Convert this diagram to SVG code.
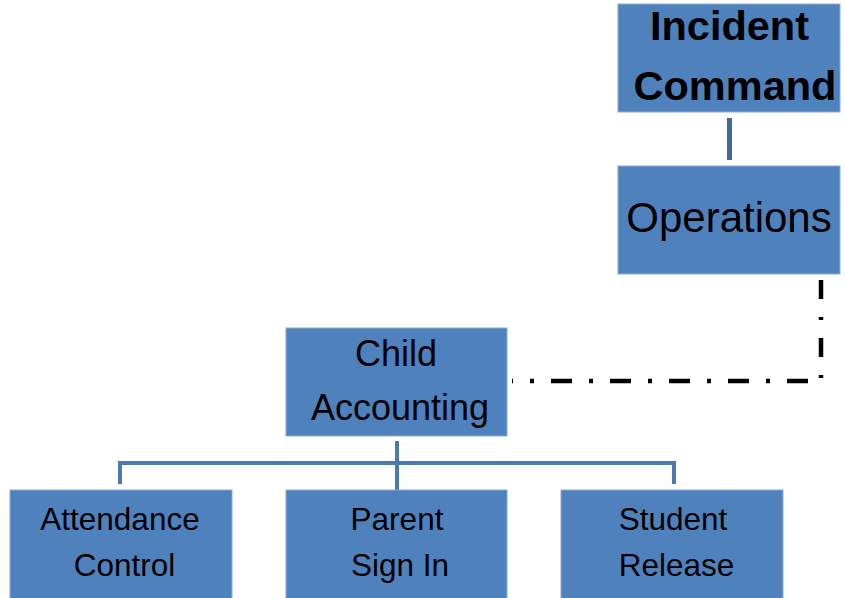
<svg xmlns="http://www.w3.org/2000/svg" width="845" height="598" viewBox="0 0 845 598">
  <style>
    .box { fill: #4F81BD; stroke: #8AAAD4; stroke-width: 1; }
    .lbl { font-family: "Liberation Sans", Arial, sans-serif; fill: #000; text-anchor: middle; }
    .tree { stroke: #4A7AB5; stroke-width: 4; fill: none; }
    .solid { stroke: #41699A; stroke-width: 5; fill: none; }
    .dashdot { stroke: #000; stroke-width: 4.5; fill: none; stroke-linecap: butt; }
  </style>
  <rect width="845" height="598" fill="#fff"/>

  <g id="connectors">
    <line class="solid" x1="729.5" y1="118" x2="729.5" y2="160"/>
    <path class="tree" d="M397 441 V490 M120 484 V463 H674 V484"/>
    <line class="dashdot" x1="821" y1="280" x2="821" y2="380" stroke-dasharray="19 18 3 18"/>
    <line class="dashdot" x1="808" y1="381" x2="512" y2="381" stroke-dasharray="21 17 4 17"/>
  </g>

  <g id="incident-command">
    <rect class="box" x="618" y="4" width="222" height="108"/>
    <text class="lbl" font-size="41.5" font-weight="bold"><tspan x="729.5" y="40">Incident</tspan><tspan x="735" y="100">Command</tspan></text>
  </g>

  <g id="operations">
    <rect class="box" x="618" y="166" width="222" height="108"/>
    <text class="lbl" font-size="42" x="729" y="232">Operations</text>
  </g>

  <g id="child-accounting">
    <rect class="box" x="286" y="328" width="221" height="108"/>
    <text class="lbl" font-size="36"><tspan x="396" y="366">Child</tspan><tspan x="400" y="420">Accounting</tspan></text>
  </g>

  <g id="attendance-control">
    <rect class="box" x="10" y="490" width="222" height="110"/>
    <text class="lbl" font-size="31.5"><tspan x="120" y="530">Attendance</tspan><tspan x="124.5" y="576">Control</tspan></text>
  </g>

  <g id="parent-sign-in">
    <rect class="box" x="286" y="490" width="221" height="110"/>
    <text class="lbl" font-size="31.5"><tspan x="397" y="530">Parent</tspan><tspan x="400" y="576">Sign In</tspan></text>
  </g>

  <g id="student-release">
    <rect class="box" x="561" y="490" width="222" height="110"/>
    <text class="lbl" font-size="31.5"><tspan x="673" y="530">Student</tspan><tspan x="676.5" y="576">Release</tspan></text>
  </g>
</svg>
